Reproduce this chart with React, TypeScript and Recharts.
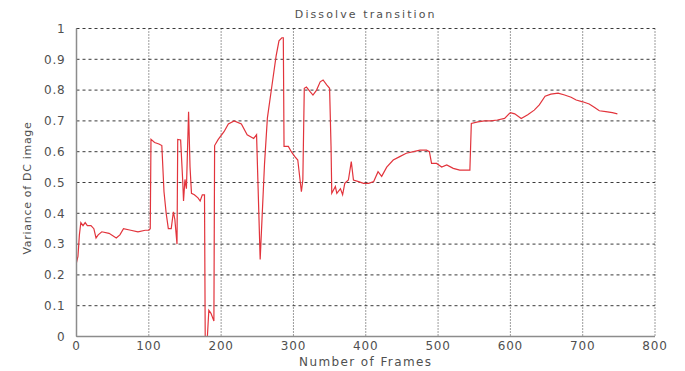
import React from 'react';
import { LineChart, Line, XAxis, YAxis, CartesianGrid, Label } from 'recharts';

// Frame index and the variance of the DC image at that frame
const frames = [
  0, 2, 4, 6, 9, 12, 15, 20, 24, 27, 30, 35, 45, 55, 60, 65, 75, 85, 95, 100,
  102, 103, 108, 114, 118, 121, 124, 127, 131, 134, 136, 139, 140, 144, 147, 148, 150, 152, 155, 157,
  159, 163, 168, 171, 174, 177, 178, 180, 181, 183, 186, 190, 191, 196, 204, 210, 218, 228, 236, 245,
  249, 254, 260, 264, 270, 276, 280, 284, 286, 287, 293, 297, 302, 306, 311, 313, 315, 318, 323, 327,
  332, 337, 341, 346, 350, 352, 353, 358, 360, 365, 368, 371, 376, 380, 383, 390, 397, 404, 411, 417,
  422, 429, 438, 447, 456, 466, 475, 484, 488, 491, 498, 505, 512, 521, 530, 544, 546, 555, 564, 573,
  582, 592, 600, 606, 615, 624, 633, 640, 648, 656, 666, 675, 684, 691, 700, 709, 716, 723, 732, 741,
  748,
];

const variance = [
  0.24, 0.26, 0.33, 0.37, 0.36, 0.37, 0.36, 0.36, 0.35, 0.32, 0.33, 0.34, 0.335, 0.32, 0.33, 0.35, 0.345, 0.34, 0.345, 0.345,
  0.35, 0.64, 0.63, 0.625, 0.62, 0.47, 0.4, 0.35, 0.35, 0.405, 0.38, 0.3, 0.64, 0.638, 0.5, 0.44, 0.51, 0.48, 0.73, 0.55,
  0.465, 0.46, 0.45, 0.44, 0.46, 0.46, 0.0, 0.0, 0.0, 0.085, 0.075, 0.05, 0.62, 0.64, 0.665, 0.69, 0.7, 0.69, 0.655, 0.643,
  0.655, 0.25, 0.56, 0.71, 0.81, 0.91, 0.96, 0.97, 0.97, 0.617, 0.617, 0.6, 0.584, 0.573, 0.47, 0.508, 0.806, 0.81, 0.795, 0.784,
  0.8, 0.827, 0.833, 0.817, 0.806, 0.617, 0.465, 0.487, 0.465, 0.48, 0.46, 0.497, 0.508, 0.568, 0.508, 0.503, 0.497, 0.497, 0.503, 0.535,
  0.52, 0.55, 0.573, 0.584, 0.595, 0.6, 0.605, 0.605, 0.6, 0.562, 0.562, 0.55, 0.557, 0.546, 0.54, 0.54, 0.692, 0.697, 0.7, 0.7,
  0.703, 0.708, 0.727, 0.723, 0.708, 0.72, 0.735, 0.752, 0.78, 0.787, 0.79, 0.784, 0.777, 0.768, 0.762, 0.755, 0.744, 0.733, 0.73, 0.727,
  0.723,
];

const xTicks = [0, 100, 200, 300, 400, 500, 600, 700, 800];
const yTicks = [0, 0.1, 0.2, 0.3, 0.4, 0.5, 0.6, 0.7, 0.8, 0.9, 1];

const title = 'Dissolve transition';
const xLabel = 'Number of Frames';
const yLabel = 'Variance of DC image';

const data = frames.map((frame, i) => ({ frame, variance: variance[i] }));

const font = 'DejaVu Sans, sans-serif';
const textColor = '#505050';
const boxColor = '#8c8c8c';
const tickStyle = { fontFamily: font, fontSize: 12, fill: textColor, letterSpacing: 0.8 };

export default function App() {
  return (
    <div style={{ position: 'absolute', left: 0, top: 0, width: 685, height: 371, background: '#fff' }}>
      <div
        style={{
          position: 'absolute',
          left: 76.5,
          width: 578.5,
          top: 8,
          textAlign: 'center',
          fontFamily: font,
          fontSize: 11,
          letterSpacing: 2.1,
          color: textColor,
          lineHeight: '13px',
        }}
      >
        {title}
      </div>
      <LineChart width={685} height={371} data={data} margin={{ top: 28.5, right: 30, bottom: 0, left: 0 }}>
        <CartesianGrid horizontal={false} stroke="#3a3a3a" strokeDasharray="1 2" />
        <CartesianGrid vertical={false} stroke="#3a3a3a" strokeDasharray="3 3" />
        <XAxis
          dataKey="frame"
          type="number"
          domain={[0, 800]}
          ticks={xTicks}
          height={34.5}
          tickSize={0}
          tickMargin={5}
          tick={tickStyle}
          axisLine={{ stroke: boxColor, strokeWidth: 1.5 }}
          interval={0}
        >
          <Label
            value={xLabel}
            position="insideBottom"
            offset={5}
            style={{ fontFamily: font, fontSize: 12, fill: textColor, letterSpacing: 1.4 }}
          />
        </XAxis>
        <XAxis
          xAxisId="top"
          orientation="top"
          type="number"
          domain={[0, 800]}
          ticks={xTicks}
          height={0}
          tick={false}
          tickLine={false}
          axisLine={{ stroke: boxColor, strokeWidth: 1.5 }}
        />
        <YAxis
          type="number"
          domain={[0, 1]}
          ticks={yTicks}
          width={76.5}
          tickSize={0}
          tickMargin={11}
          tick={tickStyle}
          tickFormatter={(v: number) => String(v)}
          axisLine={{ stroke: boxColor, strokeWidth: 1.5 }}
          interval={0}
        >
          <Label
            content={() => (
              <text
                x={31}
                y={188}
                transform="rotate(-90 31 188)"
                textAnchor="middle"
                fontFamily={font}
                fontSize={11}
                fill={textColor}
                letterSpacing={0.7}
              >
                {yLabel}
              </text>
            )}
          />
        </YAxis>
        <YAxis
          yAxisId="right"
          orientation="right"
          type="number"
          domain={[0, 1]}
          ticks={yTicks}
          width={0}
          tick={false}
          tickLine={false}
          axisLine={{ stroke: boxColor, strokeWidth: 1.5 }}
        />
        <Line
          type="linear"
          dataKey="variance"
          stroke="#e2343c"
          strokeWidth={1.2}
          dot={false}
          isAnimationActive={false}
        />
      </LineChart>
    </div>
  );
}
